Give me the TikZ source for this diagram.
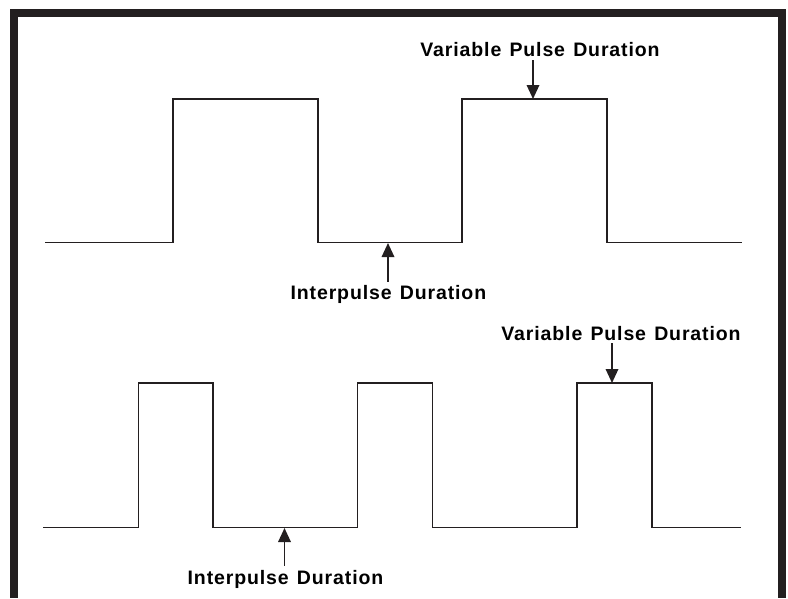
\documentclass[tikz,border=0pt]{standalone}
\usepackage{fontspec}
\setmainfont{Liberation Sans}[LetterSpace=4.5,WordSpace=1.3]
\usetikzlibrary{arrows.meta}
\definecolor{ink}{HTML}{231F20}
\begin{document}
\begin{tikzpicture}[x=1pt,y=-1pt,
  wave/.style={draw=ink,line width=1.3pt,line join=miter},
  lab/.style={font=\fontsize{19.5}{22}\selectfont\bfseries,anchor=base,inner sep=0pt,text=black},
  pointer/.style={draw=ink,line width=1.8pt,-{Triangle[length=14pt,width=12.5pt]}}]
\useasboundingbox (0,0) rectangle (788,598);
% frame (open at the bottom)
\fill[ink] (10,9) rectangle (17.5,598);
\fill[ink] (10,9) rectangle (786,17);
\fill[ink] (778,9) rectangle (786,598);
% top waveform
\draw[wave] (45,242.5) -- (173,242.5) -- (173,99) -- (318,99) -- (318,242.5)
  -- (462,242.5) -- (462,99) -- (607,99) -- (607,242.5) -- (742,242.5);
% bottom waveform
\draw[wave] (43,527.5) -- (138.7,527.5) -- (138.7,383) -- (213,383) -- (213,527.5)
  -- (357.7,527.5) -- (357.7,383) -- (432.7,383) -- (432.7,527.5)
  -- (577,527.5) -- (577,383) -- (652,383) -- (652,527.5) -- (741,527.5);
% targets on the waveforms
\coordinate (tv1) at (533,99);
\coordinate (ti1) at (388,243);
\coordinate (tv2) at (612,383);
\coordinate (ti2) at (284.5,528);
% labels
\node[lab] (v1) at (540,56.5) {Variable Pulse Duration};
\node[lab] (i1) at (388.4,299.5) {Interpulse Duration};
\node[lab] (v2) at (621,340) {Variable Pulse Duration};
\node[lab] (i2) at (285.5,584) {Interpulse Duration};
% pointers
\draw[pointer,shorten <=3.5pt] (v1.south -| tv1) -- (tv1);
\draw[pointer,shorten <=3.5pt] (i1.north -| ti1) -- (ti1);
\draw[pointer,shorten <=3pt] (v2.south -| tv2) -- (tv2);
\draw[pointer,shorten <=4pt] (i2.north -| ti2) -- (ti2);
\end{tikzpicture}
\end{document}
